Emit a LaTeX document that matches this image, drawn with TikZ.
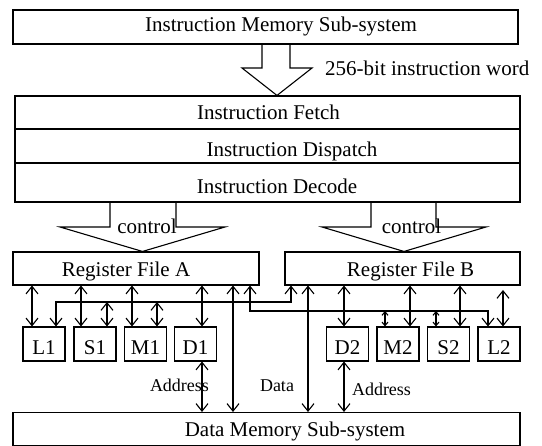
\documentclass[tikz,border=0pt]{standalone}
\usepackage{fontspec}
\setmainfont{Liberation Serif}
\usetikzlibrary{arrows.meta}
\tikzset{
  bigtip/.tip={Straight Barb[length=7.5pt,width=12pt]},
  smalltip/.tip={Straight Barb[length=3.5pt,width=6pt]},
  box/.style={draw, line width=1.1pt, inner sep=0pt},
  unit/.style={box, minimum width=42pt, minimum height=34pt},
  lbl/.style={font=\fontsize{21}{24}\selectfont, inner sep=0pt, anchor=base},
  slbl/.style={font=\fontsize{18}{21}\selectfont, inner sep=0pt, anchor=base},
  dbl/.style={line width=1.1pt, line join=miter, bigtip-bigtip},
  sdbl/.style={line width=1.1pt, smalltip-smalltip},
  fat/.style={draw, line width=1.1pt, line join=miter}
}
\begin{document}
\begin{tikzpicture}[x=1pt,y=-1pt]
\useasboundingbox (0,0) rectangle (542,446);
% boxes
\node[box, minimum width=505pt, minimum height=34pt] (imem) at (265.5,27) {};
\node[box, minimum width=505pt, minimum height=33pt] (fetch) at (267.5,112.5) {};
\node[box, minimum width=505pt, minimum height=34pt] (disp) at (267.5,146) {};
\node[box, minimum width=505pt, minimum height=39pt] (dec) at (267.5,182.5) {};
\draw[line width=1.8pt] (disp.south west) -- (disp.south east);
\node[box, minimum width=246pt, minimum height=33pt] (rfa) at (136,268.5) {};
\node[box, minimum width=235pt, minimum height=33pt] (rfb) at (402.5,268.5) {};
\node[unit] (l1) at (44,344) {};
\node[unit] (s1) at (95,344) {};
\node[unit] (m1) at (145.5,344) {};
\node[unit] (d1) at (195.5,344) {};
\node[unit] (d2) at (347.5,344) {};
\node[unit] (m2) at (398,344) {};
\node[unit] (s2) at (448.5,344) {};
\node[unit] (l2) at (499,344) {};
\node[box, minimum width=507pt, minimum height=33pt] (dmem) at (266.5,429) {};
% big arrows
\draw[fat] (262,0 |- imem.south) -- (262,68) -- (242,68) -- (277,0 |- fetch.north) -- (312,68) -- (290,68) -- (290,0 |- imem.south);
\draw[fat] (110,0 |- dec.south) -- (110,227) -- (60,227) -- (142.5,0 |- rfa.north) -- (225,227) -- (176,227) -- (176,0 |- dec.south);
\draw[fat] (371,0 |- dec.south) -- (371,227) -- (322,227) -- (404,0 |- rfb.north) -- (486,227) -- (436,227) -- (436,0 |- dec.south);
% connectors A side
\draw[dbl] (32,0 |- rfa.south) -- (32,0 |- l1.north);
\draw[dbl] (81,0 |- rfa.south) -- (81,0 |- s1.north);
\draw[dbl] (132,0 |- rfa.south) -- (132,0 |- m1.north);
\draw[dbl] (202,0 |- rfa.south) -- (202,0 |- d1.north);
\draw[dbl] (107,302) -- (107,0 |- s1.north);
\draw[dbl] (157,302) -- (157,0 |- m1.north);
\draw[dbl] (291,0 |- rfb.south) -- (291,302) -- (56,302) -- (56,0 |- l1.north);
\draw[dbl] (250,0 |- rfa.south) -- (250,311) -- (488,311) -- (488,0 |- l2.north);
\draw[dbl] (233,0 |- rfa.south) -- (233,0 |- dmem.north);
\draw[dbl] (308,0 |- rfb.south) -- (308,0 |- dmem.north);
\draw[dbl] (202,0 |- d1.south) -- (202,0 |- dmem.north);
\draw[dbl] (344,0 |- d2.south) -- (344,0 |- dmem.north);
% connectors B side
\draw[dbl] (344,0 |- rfb.south) -- (344,0 |- d2.north);
\draw[dbl] (410,0 |- rfb.south) -- (410,0 |- m2.north);
\draw[dbl] (460,0 |- rfb.south) -- (460,0 |- s2.north);
\draw[dbl] (503,290) -- (503,0 |- l2.north);
\draw[sdbl] (385,311) -- (385,0 |- m2.north);
\draw[sdbl] (436,311) -- (436,0 |- s2.north);
% labels
\node[lbl] (timem) at (281,32) {Instruction Memory Sub-system};
\node[lbl, anchor=base west] (tword) at (325,76) {256-bit instruction word};
\node[lbl] (tfetch) at (268.5,120) {Instruction Fetch};
\node[lbl] (tdisp) at (292,157) {Instruction Dispatch};
\node[lbl] (tdec) at (277,194) {Instruction Decode};
\node[lbl] (tca) at (147,234) {control};
\node[lbl] (tcb) at (411.5,234) {control};
\node[lbl] (trfa) at (126,277) {Register File A};
\node[lbl] (trfb) at (410.5,277) {Register File B};
\node[lbl] (tl1) at (44,355) {L1};
\node[lbl] (ts1) at (95,355) {S1};
\node[lbl] (tm1) at (145.5,355) {M1};
\node[lbl] (td1) at (195.5,355) {D1};
\node[lbl] (td2) at (347.5,355) {D2};
\node[lbl] (tm2) at (398,355) {M2};
\node[lbl] (ts2) at (448.5,355) {S2};
\node[lbl] (tl2) at (499,355) {L2};
\node[slbl] (taddra) at (179.5,392) {Address};
\node[slbl] (tdata) at (277,392) {Data};
\node[slbl] (taddrb) at (381.5,396) {Address};
\node[lbl] (tdmem) at (295,437) {Data Memory Sub-system};
\end{tikzpicture}
\end{document}
